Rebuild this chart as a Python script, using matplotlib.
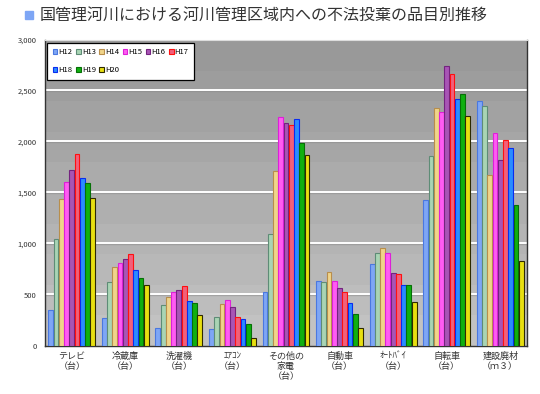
import matplotlib
matplotlib.use("Agg")
import matplotlib.pyplot as plt
import numpy as np
from matplotlib.patches import Rectangle
from matplotlib.colors import LinearSegmentedColormap

plt.rcParams['font.family'] = ['Noto Sans CJK JP', 'DejaVu Sans']

title = "国管理河川における河川管理区域内への不法投棄の品目別推移"
categories = ["テレビ\n（台）", "冷蔵庫\n（台）", "洗濯機\n（台）", "ｴｱｺﾝ\n（台）",
              "その他の\n家電\n（台）", "自動車\n（台）", "ｵｰﾄﾊﾞｲ\n（台）",
              "自転車\n（台）", "建設廃材\n（ｍ３）"]
series = ["H12", "H13", "H14", "H15", "H16", "H17", "H18", "H19", "H20"]

H12 = [353, 271, 176, 163, 526, 634, 804, 1428, 2399]
H13 = [1049, 624, 399, 281, 1095, 627, 912, 1863, 2353]
H14 = [1438, 778, 484, 412, 1716, 722, 964, 2330, 1673]
H15 = [1608, 817, 526, 451, 2242, 637, 912, 2291, 2085]
H16 = [1725, 850, 549, 379, 2183, 565, 712, 2745, 1820]
H17 = [1880, 902, 588, 281, 2167, 526, 703, 2670, 2020]
H18 = [1644, 742, 438, 265, 2222, 418, 595, 2418, 1938]
H19 = [1601, 670, 425, 212, 1990, 310, 595, 2467, 1379]
H20 = [1448, 595, 301, 75, 1869, 173, 431, 2252, 833]
values = [H12, H13, H14, H15, H16, H17, H18, H19, H20]

yticks = [0, 500, 1000, 1500, 2000, 2500, 3000]
ytick_labels = ["0", "500", "1,000", "1,500", "2,000", "2,500", "3,000"]

faces = ["#7ea6f5", "#a9d4b4", "#f0d48a", "#ff5cf2", "#a855b5", "#f2607a",
         "#2a8cff", "#10b010", "#e8df10"]
edges = ["#4a78e0", "#5e8c76", "#b88e4c", "#dd20d8", "#74237f", "#ff1010",
         "#0a2cf0", "#067006", "#2e2a00"]

fig = plt.figure(figsize=(5.4, 3.94), dpi=100)
ax = fig.add_axes([45/540, 1-346/394, 482/540, 306/394])

# background gradient (stepped)
n = 10
grad = np.linspace(1, 0, n).reshape(-1, 1)
cmap = LinearSegmentedColormap.from_list("g", ["#c2c2c2", "#999999"])
ax.imshow(grad, extent=[-0.5, 8.5, 0, 3000], aspect='auto', cmap=cmap,
          vmin=0, vmax=1, zorder=0, interpolation='nearest')

for y in yticks[1:-1]:
    ax.axhline(y, color="#8a8a8a", lw=1.0, zorder=1, alpha=0.5)
    ax.axhline(y + 8, color="white", lw=1.4, zorder=1.5)

x = np.arange(len(categories))
w = 0.098
bars = []
for j, (s, vals) in enumerate(zip(series, values)):
    b = ax.bar(x + (j - 4) * w, vals, width=w * 0.92, color=faces[j],
               edgecolor=edges[j], linewidth=0.8, zorder=3, label=s)
    bars.append(b)

ax.set_xlim(-0.5, 8.5)
ax.set_ylim(0, 3000)
ax.set_yticks(yticks)
ax.set_yticklabels(ytick_labels, fontsize=5.5, color="#333333")
ax.set_xticks(x)
ax.set_xticklabels(categories, fontsize=6.5, color="#333333", linespacing=1.2)
ax.tick_params(axis='both', length=0, pad=4)
ax.tick_params(axis='y', pad=6)
for sp in ["left", "bottom", "right"]:
    ax.spines[sp].set_color("#333333")
    ax.spines[sp].set_linewidth(1.0)
ax.spines["top"].set_color("#dddddd")

order = [0, 6, 1, 7, 2, 8, 3, 4, 5]
leg = ax.legend([bars[i] for i in order], [series[i] for i in order],
                loc="upper left", bbox_to_anchor=(0.002, 0.995), ncol=6,
                fontsize=5.5, frameon=True, fancybox=False, edgecolor="black",
                framealpha=1.0, facecolor="white",
                handlelength=0.6, handleheight=0.6, handletextpad=0.15,
                columnspacing=0.45, borderpad=0.7, labelspacing=1.3,
                borderaxespad=0.2)
leg.get_frame().set_linewidth(0.9)
leg.set_zorder(5)

fig.patches.append(Rectangle((25/540, 1-19/394), 8/540, 8/394,
                             transform=fig.transFigure, color="#7ea6f5"))
fig.text(40/540, 1-15.5/394, title, fontsize=11.5, color="#333333",
         va="center", ha="left")

fig.savefig("out.png", dpi=100)
